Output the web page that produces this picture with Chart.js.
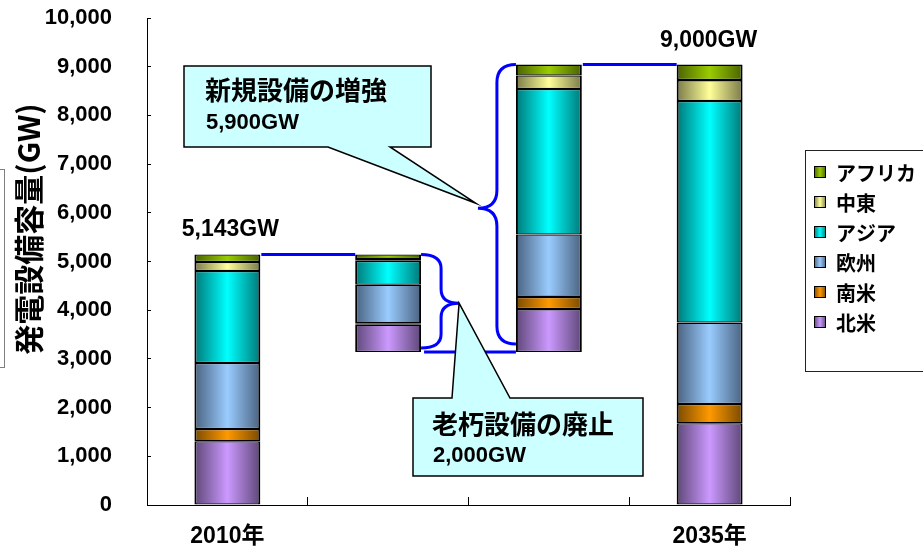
<!DOCTYPE html>
<html><head><meta charset="utf-8">
<script src="https://cdn.jsdelivr.net/npm/chart.js@4"></script>
<style>html,body{margin:0;padding:0;background:#fff;}</style>
</head><body>
<canvas id="c" width="923" height="550"></canvas>
<script>
// ---- data ----
const categories = ['2010年', '', '', '2035年'];
const regionLabels = ['北米', '南米', '欧州', 'アジア', '中東', 'アフリカ'];
const baseOffset   = [0, 3143, 3143, 0];          // invisible floor for the waterfall bars
const northAmerica = [1310, 560, 880, 1680];
const southAmerica = [250, 30, 250, 395];
const europe       = [1355, 790, 1280, 1670];
const asia         = [1890, 490, 2990, 4550];
const middleEast   = [185, 40, 275, 430];
const africa       = [153, 90, 225, 318];
const yTickValues  = [0, 1000, 2000, 3000, 4000, 5000, 6000, 7000, 8000, 9000, 10000];
const total2010 = 5143, retired = 2000, added = 5900;
const total2010Label = '5,143GW', total2035Label = '9,000GW';
const calloutNew = ['新規設備の増強', '5,900GW'];
const calloutOld = ['老朽設備の廃止', '2,000GW'];
const yTitle = '発電設備容量(GW)';

// ---- styles ----
const BAR_PCT = 0.41;
const palette = [
  ['#CC99FF', '#5E4778'],
  ['#FF9900', '#7A4A00'],
  ['#99CCFF', '#4A6280'],
  ['#00FFFF', '#007878'],
  ['#FFFF99', '#7A7A48'],
  ['#99CC00', '#4A6200']
];
const LATIN = "'Liberation Sans', Arial, 'Noto Sans CJK JP', sans-serif";
const CJK = "'Noto Sans CJK JP', 'Liberation Sans', sans-serif";

function barGradient(c, light, dark) {
  const chart = c.chart;
  const xs = chart.scales && chart.scales.x;
  if (!xs || !chart.chartArea || c.dataIndex === undefined) return light;
  const center = xs.getPixelForValue(c.dataIndex);
  const w = xs.width / chart.data.labels.length * BAR_PCT;
  const g = chart.ctx.createLinearGradient(center - w / 2, 0, center + w / 2, 0);
  g.addColorStop(0, dark); g.addColorStop(0.5, light); g.addColorStop(1, dark);
  return g;
}

const seriesValues = [northAmerica, southAmerica, europe, asia, middleEast, africa];
const datasets = [{
  label: 'base', isBase: true, data: baseOffset,
  backgroundColor: 'rgba(0,0,0,0)', borderWidth: 0
}].concat(seriesValues.map((vals, i) => ({
  label: regionLabels[i],
  data: vals,
  light: palette[i][0], dark: palette[i][1],
  backgroundColor: (c) => barGradient(c, palette[i][0], palette[i][1]),
  borderColor: '#000',
  borderWidth: {top: 1.3, bottom: 1.3, left: 2, right: 2},
  borderSkipped: false
})));

function braceRight(ctx, x0, spine, tip, yT, yB, yM, r) {
  ctx.beginPath();
  ctx.moveTo(x0, yT);
  ctx.quadraticCurveTo(spine, yT, spine, yT + r);
  ctx.lineTo(spine, yM - r);
  ctx.quadraticCurveTo(spine, yM, tip, yM);
  ctx.quadraticCurveTo(spine, yM, spine, yM + r);
  ctx.lineTo(spine, yB - r);
  ctx.quadraticCurveTo(spine, yB, x0, yB);
  ctx.stroke();
}

const annot = {
  id: 'annot',
  afterDatasetsDraw(chart) {
    const ctx = chart.ctx, xs = chart.scales.x, ys = chart.scales.y;
    const bw = xs.width / chart.data.labels.length * BAR_PCT;
    const edge = (i, s) => xs.getPixelForValue(i) + s * bw / 2;
    const yT1 = ys.getPixelForValue(total2010);
    const yB = ys.getPixelForValue(total2010 - retired);
    const yT2 = ys.getPixelForValue(total2010 - retired + added);
    ctx.save();
    ctx.strokeStyle = '#0000FF'; ctx.lineWidth = 3; ctx.lineCap = 'butt';
    ctx.beginPath();
    ctx.moveTo(edge(0, 1) + 1, yT1); ctx.lineTo(edge(1, -1), yT1);
    ctx.moveTo(edge(1, 1) + 3, yB); ctx.lineTo(edge(2, -1), yB);
    ctx.moveTo(edge(2, 1) + 1, yT2); ctx.lineTo(edge(3, -1), yT2);
    ctx.stroke();
    const b1x = edge(1, 1), b1m = (yT1 + yB) / 2;
    braceRight(ctx, b1x, b1x + 20, b1x + 38, yT1, yB - 4, b1m, 14);
    const b2x = edge(2, -1), b2m = (yT2 + yB) / 2;
    braceRight(ctx, b2x, b2x - 19, b2x - 38, yT2, yB - 8, b2m, 18);
    ctx.lineWidth = 1.5; ctx.strokeStyle = '#000'; ctx.fillStyle = '#CCFFFF';
    ctx.beginPath();
    ctx.moveTo(184, 66); ctx.lineTo(431, 66); ctx.lineTo(431, 147);
    ctx.lineTo(390, 147); ctx.lineTo(b2x - 40, b2m - 5); ctx.lineTo(328, 147);
    ctx.lineTo(184, 147); ctx.closePath(); ctx.fill(); ctx.stroke();
    ctx.beginPath();
    ctx.moveTo(413, 398); ctx.lineTo(452, 398); ctx.lineTo(b1x + 38, b1m);
    ctx.lineTo(510, 398); ctx.lineTo(643, 398); ctx.lineTo(643, 476);
    ctx.lineTo(413, 476); ctx.closePath(); ctx.fill(); ctx.stroke();
    ctx.fillStyle = '#000'; ctx.textBaseline = 'middle'; ctx.textAlign = 'left';
    ctx.font = 'bold 26px ' + CJK; ctx.fillText(calloutNew[0], 205, 90);
    ctx.font = 'bold 22px ' + LATIN; ctx.fillText(calloutNew[1], 206, 123);
    ctx.font = 'bold 26px ' + CJK; ctx.fillText(calloutOld[0], 432, 424);
    ctx.font = 'bold 22px ' + LATIN; ctx.fillText(calloutOld[1], 433, 456);
    ctx.textAlign = 'center';
    ctx.font = 'bold 23px ' + LATIN;
    ctx.fillText(total2010Label, xs.getPixelForValue(0) + 3, yT1 - 25);
    ctx.fillText(total2035Label, xs.getPixelForValue(3) - 1, yT2 - 24);
    ctx.restore();
  },
  afterDraw(chart) {
    const ctx = chart.ctx;
    ctx.save();
    ctx.translate(29, 229); ctx.rotate(-Math.PI / 2);
    ctx.fillStyle = '#000'; ctx.textAlign = 'center'; ctx.textBaseline = 'middle';
    ctx.font = 'bold 30px ' + CJK;
    ctx.fillText(yTitle, 0, 0);
    ctx.restore();
    ctx.save();
    ctx.strokeStyle = '#808080'; ctx.lineWidth = 1;
    ctx.strokeRect(-10.5, 169.5, 15, 198);
    ctx.strokeStyle = '#222'; ctx.lineWidth = 1;
    ctx.strokeRect(805.5, 150.5, 140, 221);
    const items = chart.data.datasets.filter(d => !d.isBase).slice().reverse();
    items.forEach((d, i) => {
      const cy = 172 + i * 30;
      const g = ctx.createLinearGradient(814, 0, 826, 0);
      g.addColorStop(0, d.dark); g.addColorStop(0.5, d.light); g.addColorStop(1, d.dark);
      ctx.fillStyle = g; ctx.fillRect(814, cy - 6, 12, 12);
      ctx.strokeStyle = '#000'; ctx.strokeRect(814.5, cy - 5.5, 11, 11);
      ctx.fillStyle = '#000'; ctx.textBaseline = 'middle'; ctx.textAlign = 'left';
      ctx.font = 'bold 20px ' + CJK;
      ctx.fillText(d.label, 836, cy + 1);
    });
    ctx.restore();
  }
};

Chart.defaults.color = '#000';
new Chart(document.getElementById('c'), {
  type: 'bar',
  data: { labels: categories, datasets },
  options: {
    responsive: false, animation: false,
    layout: { padding: { left: 0, top: 18, right: 133, bottom: 0 } },
    plugins: { legend: { display: false }, tooltip: { enabled: false } },
    datasets: { bar: { categoryPercentage: 1, barPercentage: BAR_PCT } },
    scales: {
      x: {
        stacked: true,
        afterFit: (s) => { s.height = 45; s.paddingLeft = 0; s.paddingRight = 0; },
        grid: { drawOnChartArea: false, offset: true, tickLength: -8, color: '#000', lineWidth: 1 },
        border: { color: '#000', width: 1 },
        ticks: { padding: 26, font: { family: LATIN, size: 23, weight: 'bold' }, color: '#000', maxRotation: 0, autoSkip: false }
      },
      y: {
        stacked: true, min: 0, max: 10000,
        afterFit: (s) => { s.width = 147; s.paddingTop = 0; s.paddingBottom = 0; },
        afterBuildTicks: (s) => { s.ticks = yTickValues.map(v => ({ value: v })); },
        grid: { drawOnChartArea: false, tickLength: -4, color: '#000', lineWidth: 1 },
        border: { color: '#000', width: 1 },
        ticks: { padding: 39, font: { family: LATIN, size: 22, weight: 'bold' }, color: '#000',
          callback: (v) => Number(v).toLocaleString('en-US') }
      }
    }
  },
  plugins: [annot]
});
</script>
</body></html>
